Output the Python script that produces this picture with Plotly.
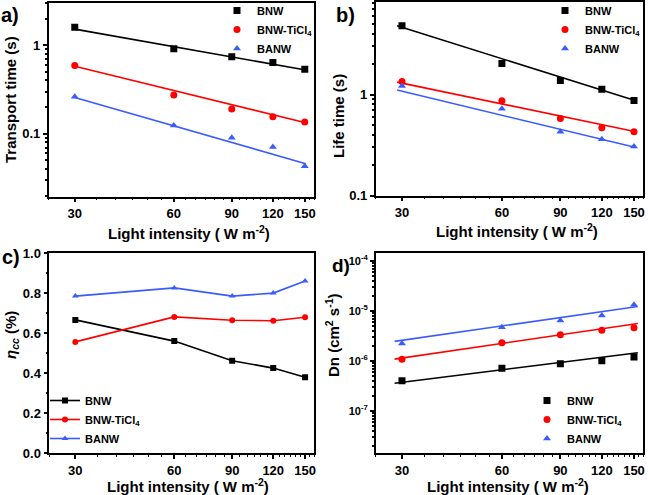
import numpy as np
import plotly.graph_objects as go

# light intensity (W m^-2)
intensity = [30, 60, 90, 120, 150]

# a) transport time (s)
a_bnw = [1.60, 0.91, 0.74, 0.64, 0.535]
a_ti = [0.59, 0.274, 0.19, 0.156, 0.136]
a_banw = [0.262, 0.124, 0.090, 0.071, 0.043]
a_fit_x = [30, 151]
a_fit_bnw = [1.52, 0.525]
a_fit_ti = [0.58, 0.133]
a_fit_banw = [0.257, 0.046]

# b) life time (s)
b_bnw = [4.8, 2.03, 1.38, 1.13, 0.875]
b_ti = [1.35, 0.87, 0.58, 0.47, 0.43]
b_banw = [1.22, 0.726, 0.43, 0.362, 0.307]
b_fit_x = [29, 152]
b_fit_bnw = [4.8, 0.87]
b_fit_ti = [1.33, 0.43]
b_fit_banw = [1.11, 0.30]

# c) charge collection efficiency
c_bnw = [0.667, 0.561, 0.463, 0.426, 0.380]
c_ti = [0.557, 0.682, 0.665, 0.663, 0.680]
c_banw = [0.786, 0.827, 0.786, 0.801, 0.862]

# d) diffusion coefficient (cm^2 s^-1)
d_bnw = [4.0e-7, 7.1e-7, 8.7e-7, 1.0e-6, 1.19e-6]
d_ti = [1.08e-6, 2.3e-6, 3.33e-6, 4.08e-6, 4.6e-6]
d_banw = [2.23e-6, 4.69e-6, 6.38e-6, 8.05e-6, 1.32e-5]
d_fit_x = [28.5, 154]
d_fit_bnw = [3.55e-7, 1.45e-6]
d_fit_ti = [1.08e-6, 5.56e-6]
d_fit_banw = [2.45e-6, 1.22e-5]

names = ["BNW", "BNW-TiCl<sub>4</sub>", "BANW"]
colors = ["black", "#ff0000", "#3a5cff"]
symbols = ["square", "circle", "triangle-up"]

W, H = 648, 495
FONT = "Liberation Sans"

fig = go.Figure()


def px(x):
    return x / W


def py(y):
    return 1 - y / H


panels = {
    "a": dict(xa="x", ya="y", dom_x=[48.7, 314], dom_y=[2.7, 196.7]),
    "b": dict(xa="x2", ya="y2", dom_x=[375.7, 643.3], dom_y=[1.7, 195.7]),
    "c": dict(xa="x3", ya="y3", dom_x=[49.3, 314.3], dom_y=[253.3, 453.3]),
    "d": dict(xa="x4", ya="y4", dom_x=[375.7, 643.3], dom_y=[253.3, 453.3]),
}

scatter_sets = [
    ("a", "legend", [a_bnw, a_ti, a_banw], a_fit_x, [a_fit_bnw, a_fit_ti, a_fit_banw]),
    ("b", "legend2", [b_bnw, b_ti, b_banw], b_fit_x, [b_fit_bnw, b_fit_ti, b_fit_banw]),
    ("d", "legend4", [d_bnw, d_ti, d_banw], d_fit_x, [d_fit_bnw, d_fit_ti, d_fit_banw]),
]

for key, leg, ys, fx, fys in scatter_sets:
    p = panels[key]
    for i in range(3):
        fig.add_trace(go.Scatter(x=fx, y=fys[i], mode="lines", line=dict(color=colors[i], width=1.6),
                                 xaxis=p["xa"], yaxis=p["ya"], showlegend=False, hoverinfo="skip"))
    for i in range(3):
        fig.add_trace(go.Scatter(x=intensity, y=ys[i], mode="markers", name=names[i],
                                 marker=dict(color=colors[i], symbol=symbols[i], size=7),
                                 xaxis=p["xa"], yaxis=p["ya"], legend=leg))

p = panels["c"]
for i, ys in enumerate([c_bnw, c_ti, c_banw]):
    fig.add_trace(go.Scatter(x=intensity, y=ys, mode="lines+markers", name=names[i],
                             line=dict(color=colors[i], width=1.6),
                             marker=dict(color=colors[i], symbol=symbols[i], size=6),
                             xaxis=p["xa"], yaxis=p["ya"], legend="legend3"))

tickfont = dict(family=FONT, size=13, color="black", weight="bold")
x_minor = list(range(25, 161, 5))


def xaxis_cfg(p, anchor):
    return dict(type="log", domain=[px(p["dom_x"][0]), px(p["dom_x"][1])], anchor=anchor,
                range=[np.log10(25), np.log10(160)],
                tickvals=intensity, ticktext=[str(v) for v in intensity],
                ticks="outside", ticklen=4, tickwidth=1.5, tickcolor="black",
                minor=dict(tickvals=x_minor, ticks="outside", ticklen=2, tickwidth=1, tickcolor="black"),
                showline=True, linecolor="black", linewidth=1.5, mirror=True,
                showgrid=False, zeroline=False, tickfont=tickfont)


def yaxis_cfg(p, anchor, **kw):
    cfg = dict(domain=[py(p["dom_y"][1]), py(p["dom_y"][0])], anchor=anchor,
               ticks="outside", ticklen=4, tickwidth=1.5, tickcolor="black",
               showline=True, linecolor="black", linewidth=1.5, mirror=True,
               showgrid=False, zeroline=False, tickfont=tickfont)
    cfg.update(kw)
    return cfg


def log_minor(lo, hi):
    vals = []
    for e in range(lo, hi + 1):
        for m in range(2, 10):
            vals.append(m * 10.0 ** e)
    return vals


fig.update_layout(
    xaxis=xaxis_cfg(panels["a"], "y"),
    xaxis2=xaxis_cfg(panels["b"], "y2"),
    xaxis3=xaxis_cfg(panels["c"], "y3"),
    xaxis4=xaxis_cfg(panels["d"], "y4"),
    yaxis=yaxis_cfg(panels["a"], "x", type="log", range=[-1.71, 0.48], tickvals=[0.1, 1], ticktext=["0.1", "1"],
                    minor=dict(tickvals=log_minor(-2, 0), ticks="outside", ticklen=2, tickcolor="black")),
    yaxis2=yaxis_cfg(panels["b"], "x2", type="log", range=[-1, 0.92], tickvals=[0.1, 1], ticktext=["0.1", "1"],
                     minor=dict(tickvals=log_minor(-1, 0), ticks="outside", ticklen=2, tickcolor="black")),
    yaxis3=yaxis_cfg(panels["c"], "x3", range=[0, 1], dtick=0.2, tickformat=".1f",
                     minor=dict(dtick=0.1, ticks="outside", ticklen=2, tickcolor="black")),
    yaxis4=yaxis_cfg(panels["d"], "x4", type="log", range=[-7.85, -3.85],
                     tickvals=[1e-7, 1e-6, 1e-5, 1e-4],
                     ticktext=["10<sup>-7</sup>", "10<sup>-6</sup>", "10<sup>-5</sup>", "10<sup>-4</sup>"],
                     tickfont=dict(family=FONT, size=11, color="black", weight="bold"),
                     minor=dict(tickvals=log_minor(-8, -4), ticks="outside", ticklen=2, tickcolor="black")),
)

legfont = dict(family=FONT, size=11, color="black", weight="bold")
legbase = dict(font=legfont, bgcolor="rgba(0,0,0,0)", xanchor="left", yanchor="top",
               itemwidth=30, tracegroupgap=0)
fig.update_layout(
    legend=dict(x=px(217), y=py(-4), **legbase),
    legend2=dict(x=px(545), y=py(-4), **legbase),
    legend3=dict(x=px(45), y=py(386), **legbase),
    legend4=dict(x=px(527), y=py(386), **legbase),
)

annots = [
    (10, 15, "a)", 0, 20), (345, 15, "b)", 0, 20), (11, 257, "c)", 0, 20), (341, 265, "d)", 0, 19),
    (189, 233, "Light intensity ( W m<sup>-2</sup>)", 0, 15),
    (517, 230, "Light intensity ( W m<sup>-2</sup>)", 0, 15),
    (188, 485, "Light intensity ( W m<sup>-2</sup>)", 0, 15),
    (508, 485, "Light intensity ( W m<sup>-2</sup>)", 0, 15),
    (11, 100, "Transport time (s)", -90, 15),
    (339, 116, "Life time (s)", -90, 15),
    (11, 335, "<i>η<sub>cc</sub></i> (%)", -90, 15),
    (332, 335, "Dn (cm<sup>2</sup> s<sup>-1</sup>)", -90, 15),
]
for x, y, t, ang, sz in annots:
    fig.add_annotation(x=px(x), y=py(y), xref="paper", yref="paper", text=t, textangle=ang,
                       showarrow=False, xanchor="center", yanchor="middle",
                       font=dict(family=FONT, size=sz, color="black", weight="bold"))

fig.update_layout(width=W, height=H, margin=dict(l=0, r=0, t=0, b=0, autoexpand=False),
                  paper_bgcolor="white", plot_bgcolor="white", font=dict(family=FONT))

fig.write_html("out.html", config={"displayModeBar": False},
               post_script="document.body.style.margin='0';")
